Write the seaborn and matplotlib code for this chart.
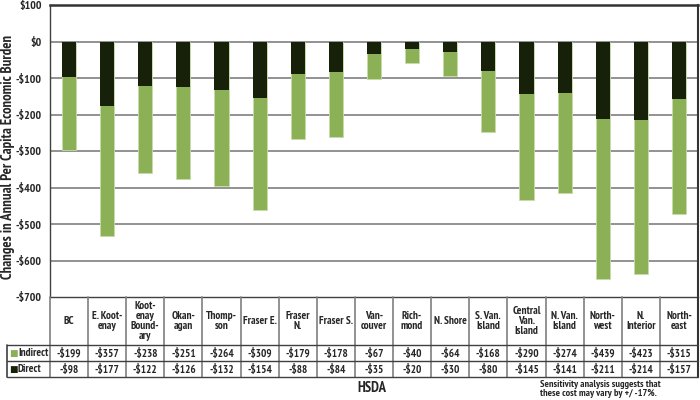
import matplotlib
matplotlib.use("Agg")
import matplotlib.pyplot as plt
import numpy as np
import pandas as pd
import seaborn as sns

# Data (per capita, $)
regions = ["BC", "E. Koot-\nenay", "Koot-\nenay\nBound-\nary", "Okan-\nagan", "Thomp-\nson",
           "Fraser E.", "Fraser\nN.", "Fraser S.", "Van-\ncouver", "Rich-\nmond", "N. Shore",
           "S. Van.\nIsland", "Central\nVan.\nIsland", "N. Van.\nIsland", "North-\nwest",
           "N.\nInterior", "North-\neast"]
indirect = [199, 357, 238, 251, 264, 309, 179, 178, 67, 40, 64, 168, 290, 274, 439, 423, 315]
direct = [98, 177, 122, 126, 132, 154, 88, 84, 35, 20, 30, 80, 145, 141, 211, 214, 157]
y_ticks = [100, 0, -100, -200, -300, -400, -500, -600, -700]

light = "#8bb056"
dark = "#172008"
grid_c = "#7f7f7f"

sns.set_style("white")
plt.rcParams["font.family"] = ["PT Sans Narrow", "DejaVu Sans"]
plt.rcParams["font.weight"] = "bold"

df = pd.DataFrame({"region": regions,
                   "direct": [-d for d in direct],
                   "total": [-(d + i) for d, i in zip(direct, indirect)]})

fig = plt.figure(figsize=(7, 4), dpi=100)
ax = fig.add_axes([50 / 700, 1 - 297 / 400, 648 / 700, 292 / 400])

sns.barplot(data=df, x="region", y="total", color=light, width=0.37, saturation=1,
            edgecolor="#c8dca8", linewidth=0.6, ax=ax, zorder=3)
sns.barplot(data=df, x="region", y="direct", color=dark, width=0.37, saturation=1,
            linewidth=0, ax=ax, zorder=4)

ax.set_xlim(-0.5, len(regions) - 0.5)
ax.set_ylim(-700, 100)
ax.set_yticks(y_ticks)
ax.set_yticklabels([("-$%d" % -v) if v < 0 else "$%d" % v for v in y_ticks],
                   fontsize=8.5, fontweight="bold")
ax.set_xticks([])
ax.set_xlabel("")
ax.set_ylabel("Changes in Annual Per Capita Economic Burden", fontsize=10.5,
              fontweight="bold")
ax.yaxis.set_label_coords(-35 / 648, 140 / 292)
ax.tick_params(axis="y", direction="out", length=4, width=1, color="#404040", pad=2)
for v in y_ticks[1:-1]:
    ax.axhline(v, color=grid_c, lw=1.2, zorder=1)
ax.spines["top"].set_color("#333333")
ax.spines["top"].set_linewidth(1.8)
ax.spines["right"].set_color("#333333")
ax.spines["right"].set_linewidth(1.5)
ax.spines["left"].set_color("#404040")
ax.spines["left"].set_linewidth(1)
ax.spines["bottom"].set_color("#404040")
ax.spines["bottom"].set_linewidth(1)

# Data table under the plot
left_w = (50 - 7) / (648 / 17)
tax = fig.add_axes([7 / 700, 1 - 377 / 400, 691 / 700, 80 / 400])
tax.set_xlim(-0.5 - left_w, len(regions) - 0.5)
tax.set_ylim(80, 0)
tax.axis("off")
n = len(regions)
for k in range(n + 1):
    tax.plot([k - 0.5, k - 0.5], [0, 80], color=grid_c, lw=1.2, clip_on=False)
tax.plot([-0.5 - left_w, -0.5 - left_w], [48, 80], color="#404040", lw=1.2, clip_on=False)
tax.plot([n - 0.5, n - 0.5], [0, 80], color="#333333", lw=1.5, clip_on=False)
for yy in [48, 64, 80]:
    tax.plot([-0.5 - left_w, n - 0.5], [yy, yy], color="#404040", lw=1.0, clip_on=False)
for k, name in enumerate(regions):
    tax.text(k, 24, name, ha="center", va="center", fontsize=8, fontweight="bold",
             linespacing=1.0)
    tax.text(k, 56.5, "-$%d" % indirect[k], ha="center", va="center", fontsize=8,
             fontweight="bold")
    tax.text(k, 72.5, "-$%d" % direct[k], ha="center", va="center", fontsize=8,
             fontweight="bold")
px = 648 / 17
sq_x = -0.5 - left_w + 6 / px
for yy, lab, c in [(56.5, "Indirect", light), (72.5, "Direct", dark)]:
    tax.text(sq_x, yy, "\u25a0", color=c, ha="center", va="center", fontsize=6.5,
             family="DejaVu Sans")
    tax.text(sq_x + 5 / px, yy, lab, ha="left", va="center", fontsize=8, fontweight="bold")

fig.text(372 / 700, 1 - 388 / 400, "HSDA", ha="center", va="center", fontsize=10.5,
         fontweight="bold")
fig.text(540 / 700, 1 - 389 / 400, "Sensitivity analysis suggests that\nthese cost may vary by +/ -17%.",
         ha="left", va="center", fontsize=7.4, fontweight="bold", linespacing=1.05)

fig.savefig("out.png", dpi=100)
